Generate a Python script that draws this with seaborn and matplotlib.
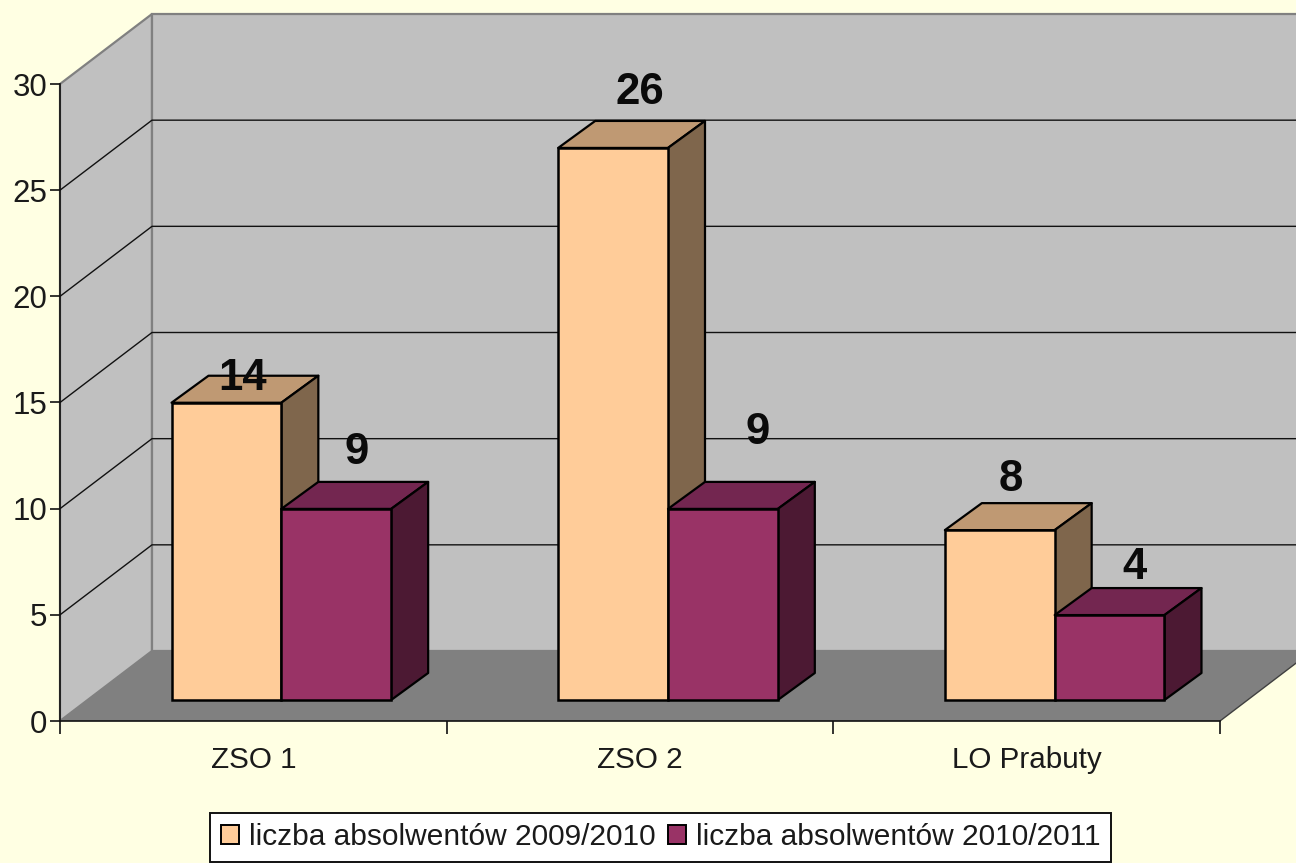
import matplotlib
matplotlib.use("Agg")
import matplotlib.pyplot as plt
from matplotlib.patches import Polygon
from matplotlib.transforms import Affine2D
import pandas as pd
import seaborn as sns

categories = ["ZSO 1", "ZSO 2", "LO Prabuty"]
series_names = ["liczba absolwentów 2009/2010", "liczba absolwentów 2010/2011"]
values_2009 = [14, 26, 8]
values_2010 = [9, 9, 4]
y_ticks = [0, 5, 10, 15, 20, 25, 30]

# layout / style (pixels at dpi 100)
W, H = 1296, 863
BG = "#FFFFE3"
WALL = "#C0C0C0"
FLOOR = "#808080"
FRONT = ["#FFCC99", "#993366"]
TOP = ["#BF9973", "#732650"]
SIDE = ["#7F664C", "#4C1933"]
WALL_OFF = (92, 70)
BAR_OFF = (28, 21)
BAR_DEPTH = (37, 27)
LABEL_OFF = [[(16, 24), (27, 55), (11, 51)], [(20, 56), (35, 76), (25, 48)]]

sns.set_theme(style="white")
plt.rcParams["font.family"] = ["Liberation Sans", "DejaVu Sans"]

df = pd.DataFrame({
    "category": categories * 2,
    "series": [series_names[0]] * 3 + [series_names[1]] * 3,
    "value": values_2009 + values_2010,
})

fig = plt.figure(figsize=(W / 100, H / 100), dpi=100, facecolor=BG)
ax = fig.add_axes([60 / W, (H - 721) / H, 1160 / W, 637 / H])
ax.set_facecolor("none")

sns.barplot(data=df, x="category", y="value", hue="series", order=categories,
            hue_order=series_names, palette=FRONT, width=0.568, saturation=1,
            legend=False, ax=ax, edgecolor="black", linewidth=1.8)
ax.set_xlim(-0.5, 2.5)
ax.set_ylim(0, 30)

wall_tr = ax.transData + Affine2D().translate(*WALL_OFF)
T = ax.transData
id_tr = Affine2D()
x0, x1 = -0.5, 2.5


def disp(x, y):
    return tuple(T.transform((x, y)))


# side wall, back wall, floor
ax.add_patch(Polygon([disp(x0, 0), disp(x0, 30),
                      wall_tr.transform((x0, 30)), wall_tr.transform((x0, 0))],
                     transform=id_tr, fc=WALL, ec="#808080", lw=1.6, zorder=0.5, clip_on=False))
ax.add_patch(Polygon([wall_tr.transform((x0, 0)), wall_tr.transform((x0, 30)),
                      wall_tr.transform((x1, 30)), wall_tr.transform((x1, 0))],
                     transform=id_tr, fc=WALL, ec="#808080", lw=1.6, zorder=0.5, clip_on=False))
ax.add_patch(Polygon([disp(x0, 0), disp(x1, 0),
                      wall_tr.transform((x1, 0)), wall_tr.transform((x0, 0))],
                     transform=id_tr, fc=FLOOR, ec="none", zorder=0.6, clip_on=False))
ax.plot([disp(x1, 0)[0], wall_tr.transform((x1, 0))[0]],
        [disp(x1, 0)[1], wall_tr.transform((x1, 0))[1]],
        transform=id_tr, color="#404040", lw=1, zorder=0.7, clip_on=False)
# gridlines
for t in y_ticks[1:-1]:
    a, b, c = disp(x0, t), wall_tr.transform((x0, t)), wall_tr.transform((x1, t))
    ax.plot([a[0], b[0], c[0]], [a[1], b[1], c[1]], transform=id_tr,
            color="#111111", lw=1.0, zorder=0.8, clip_on=False)

# extruded bars
dx, dy = BAR_OFF
ddx, ddy = BAR_DEPTH
bar_tr = Affine2D().translate(dx, dy)
for s, cont in enumerate(ax.containers):
    for i, bar in enumerate(cont.patches):
        z = 3 + s
        bar.set_transform(ax.transData + bar_tr)
        bar.set_zorder(z + 0.2)
        bar.set_clip_on(False)
        bx, bw, bh = bar.get_x(), bar.get_width(), bar.get_height()
        l, b = disp(bx, 0)
        r, t = disp(bx + bw, bh)
        l, r, b, t = l + dx, r + dx, b + dy, t + dy
        ax.add_patch(Polygon([(l, t), (r, t), (r + ddx, t + ddy), (l + ddx, t + ddy)],
                             transform=id_tr, fc=TOP[s], ec="black", lw=1.6,
                             joinstyle="round", zorder=z, clip_on=False))
        ax.add_patch(Polygon([(r, b), (r, t), (r + ddx, t + ddy), (r + ddx, b + ddy)],
                             transform=id_tr, fc=SIDE[s], ec="black", lw=1.6,
                             joinstyle="round", zorder=z, clip_on=False))
        ox, oy = LABEL_OFF[s][i]
        ax.annotate(f"{bh:.0f}", xy=((l + r) / 2, t), xycoords=id_tr,
                    xytext=(ox, oy), textcoords="offset pixels", ha="center", va="center",
                    fontsize=31.5, fontweight="bold", color="#0a0a0a", zorder=8,
                    annotation_clip=False)

# axes frame & ticks
for name in ["top", "right"]:
    ax.spines[name].set_visible(False)
for name in ["left", "bottom"]:
    ax.spines[name].set_visible(True)
    ax.spines[name].set_color("#111111")
    ax.spines[name].set_linewidth(1.2)
    ax.spines[name].set_zorder(2)
ax.set_yticks(y_ticks)
ax.set_xticks([-0.5, 0.5, 1.5, 2.5], labels=[])
ax.set_xticks([0, 1, 2], labels=categories, minor=True)
ax.tick_params(axis="y", length=7, width=1.2, color="#111111", labelsize=22.5,
               labelcolor="#1a1a1a", pad=2, left=True)
ax.tick_params(axis="x", which="major", length=9, width=1.2, color="#111111", bottom=True)
ax.tick_params(axis="x", which="minor", length=0, labelsize=21.3, labelcolor="#1a1a1a", pad=18)
ax.set_xlabel("")
ax.set_ylabel("")

leg = ax.legend([c.patches[0] for c in ax.containers], series_names, ncol=2,
                loc="lower left", bbox_to_anchor=(210, 1), bbox_transform=id_tr,
                frameon=True, fancybox=False, facecolor="white", edgecolor="#111111",
                framealpha=1, fontsize=21.5, handlelength=0.62, handleheight=0.62,
                handletextpad=0.33, columnspacing=0.4, borderpad=0.36, borderaxespad=0)
leg.get_frame().set_linewidth(1.4)
for h in leg.legend_handles:
    h.set_linewidth(1.4)
for txt in leg.get_texts():
    txt.set_color("#1a1a1a")

fig.savefig("out.png", dpi=100, facecolor=BG)
